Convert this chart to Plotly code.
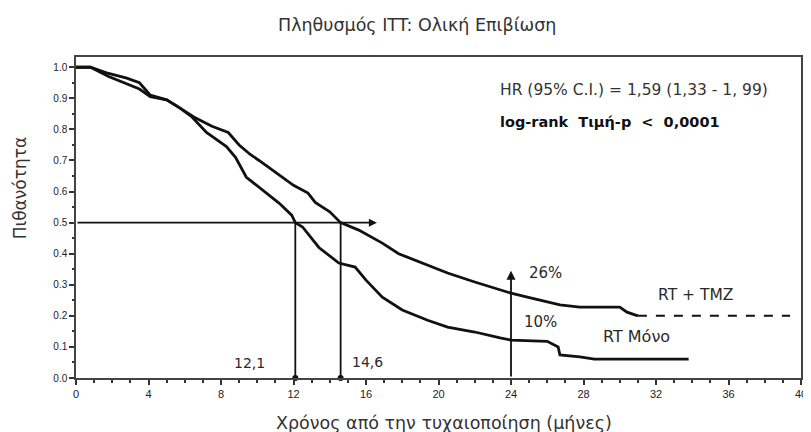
import plotly.graph_objects as go

# ---------------- data ----------------
tmz_t = [0, 0.8, 1.8, 2.8, 3.5, 4.1, 5.0, 5.7, 6.5, 7.5, 8.4, 9.0, 9.6, 10.1, 11.4, 12.0, 12.8,
         13.2, 14.0, 14.6, 15.6, 16.9, 17.8, 19.1, 20.5, 22.0, 23.4, 24.0, 24.9, 25.6, 26.7,
         27.8, 30.0, 30.4, 31.0, 39.4]
tmz_s = [1.0, 1.0, 0.97, 0.945, 0.93, 0.905, 0.895, 0.87, 0.84, 0.81, 0.79, 0.75, 0.72, 0.70,
         0.645, 0.62, 0.595, 0.565, 0.535, 0.50, 0.476, 0.434, 0.40, 0.37, 0.338, 0.309,
         0.283, 0.273, 0.26, 0.25, 0.235, 0.228, 0.228, 0.212, 0.20, 0.20]

rt_t = [0, 0.8, 1.8, 2.8, 3.5, 4.1, 5.0, 5.7, 6.4, 7.2, 8.3, 8.8, 9.4, 10.1, 11.2, 11.9, 12.1,
        12.5, 13.4, 14.5, 15.4, 16.0, 16.9, 18.0, 19.4, 20.5, 22.0, 23.4, 24.0, 26.0, 26.6,
        26.7, 27.8, 28.6, 33.8]
rt_s = [1.0, 1.0, 0.98, 0.965, 0.95, 0.91, 0.895, 0.87, 0.84, 0.79, 0.745, 0.71, 0.646, 0.614,
        0.563, 0.524, 0.50, 0.486, 0.42, 0.37, 0.357, 0.315, 0.26, 0.219, 0.186, 0.164,
        0.148, 0.129, 0.122, 0.118, 0.10, 0.074, 0.068, 0.061, 0.061]

tmz_dash_from = 31.0   # sparse (dashed-looking) tail of the RT + TMZ curve

medians = [12.1, 14.6]
median_labels = ["12,1", "14,6"]
landmark_month = 24
landmark_labels = ["26%", "10%"]
series_names = ["RT + TMZ", "RT Μόνο"]

x_ticks = [0, 4, 8, 12, 16, 20, 24, 28, 32, 36, 40]
y_ticks = [0.0, 0.1, 0.2, 0.3, 0.4, 0.5, 0.6, 0.7, 0.8, 0.9, 1.0]
y_tick_labels = ["0.0", "0.1", "0.2", "0.3", "0.4", "0.5", "0.6", "0.7", "0.8", "0.9", "1.0"]

title = "Πληθυσμός ITT: Ολική Επιβίωση"
x_title = "Χρόνος από την τυχαιοποίηση (μήνες)"
y_title = "Πιθανότητα"
hr_text = "HR (95% C.I.) = 1,59 (1,33 - 1, 99)"
p_text = "<b>log-rank  Τιμή-p  &lt;  0,0001</b>"

# ---------------- figure ----------------
FONT = "DejaVu Sans, Liberation Sans, sans-serif"
TICKFONT = "Liberation Sans, Arial, sans-serif"
INK = "#111111"
TXT = "#2a2a2a"
fig = go.Figure()

head_t = [t for t in tmz_t if t <= tmz_dash_from]
head_s = tmz_s[:len(head_t)]
tail_t = [t for t in tmz_t if t >= tmz_dash_from]
tail_s = tmz_s[len(tmz_t) - len(tail_t):]

fig.add_trace(go.Scatter(x=head_t, y=head_s, mode="lines",
                         line=dict(color=INK, width=2.8), name=series_names[0]))
fig.add_trace(go.Scatter(x=tail_t, y=tail_s, mode="lines",
                         line=dict(color=INK, width=2.0, dash="dash"), name=series_names[0]))
fig.add_trace(go.Scatter(x=rt_t, y=rt_s, mode="lines",
                         line=dict(color=INK, width=2.8), name=series_names[1]))

# median vertical lines with foot markers
for m in medians:
    fig.add_shape(type="line", x0=m, x1=m, y0=0, y1=0.5, xref="x", yref="y",
                  line=dict(color=INK, width=1.8))
fig.add_trace(go.Scatter(x=medians, y=[0, 0], mode="markers",
                         marker=dict(color=INK, size=6), cliponaxis=False))

# horizontal arrow at 0.5
fig.add_annotation(x=16.6, y=0.5, ax=0, ay=0.5, xref="x", yref="y", axref="x", ayref="y",
                   text="", showarrow=True, arrowhead=2, arrowsize=1, arrowwidth=1.6,
                   arrowcolor=INK, standoff=0)
# vertical arrow at 24 months
fig.add_annotation(x=landmark_month, y=0.345, ax=landmark_month, ay=0, xref="x", yref="y",
                   axref="x", ayref="y", text="", showarrow=True, arrowhead=2, arrowsize=1,
                   arrowwidth=1.8, arrowcolor=INK, standoff=0)

# median labels
for lab, (tx, ty) in zip(median_labels, [(9.55, 0.048), (16.1, 0.051)]):
    fig.add_annotation(x=tx, y=ty, xref="x", yref="y", text=lab, showarrow=False,
                       font=dict(family=FONT, size=14, color=TXT))

# landmark percent labels
for lab, (tx, ty) in zip(landmark_labels, [(25.9, 0.338), (25.6, 0.18)]):
    fig.add_annotation(x=tx, y=ty, xref="x", yref="y", text=lab, showarrow=False,
                       font=dict(family=FONT, size=15, color=TXT))

# series labels
fig.add_annotation(x=34.2, y=0.267, xref="x", yref="y", text=series_names[0], showarrow=False,
                   font=dict(family=FONT, size=15.5, color=TXT))
fig.add_annotation(x=30.9, y=0.132, xref="x", yref="y", text=series_names[1], showarrow=False,
                   font=dict(family=FONT, size=16, color=TXT))

# statistics text
fig.add_annotation(x=23.3, y=0.926, xref="x", yref="y", text=hr_text, showarrow=False,
                   xanchor="left", font=dict(family=FONT, size=15.5, color="#333"))
fig.add_annotation(x=23.3, y=0.823, xref="x", yref="y", text=p_text, showarrow=False,
                   xanchor="left", font=dict(family=FONT, size=14.5, color="#111"))

# titles
fig.add_annotation(x=0.471, y=1.10, xref="paper", yref="paper", text=title, showarrow=False,
                   yanchor="middle", font=dict(family=FONT, size=17.5, color="#333"))
fig.add_annotation(x=0.508, y=-0.140, xref="paper", yref="paper", text=x_title,
                   showarrow=False, yanchor="middle", font=dict(family=FONT, size=17.5, color="#333"))
fig.add_annotation(x=-0.0767, y=0.592, xref="paper", yref="paper", text=y_title,
                   showarrow=False, textangle=-90, xanchor="center", yanchor="middle",
                   font=dict(family=FONT, size=17, color="#333"))

fig.update_xaxes(range=[0, 40], tickvals=x_ticks, ticktext=[str(v) for v in x_ticks],
                 showgrid=False, zeroline=False, showline=True, linecolor="#444", linewidth=1.5,
                 mirror=True, ticks="outside", ticklen=5, tickwidth=1.5, tickcolor="#333",
                 minor=dict(dtick=1, ticks="outside", ticklen=3, tickcolor="#333", tickwidth=1.5),
                 tickfont=dict(family=TICKFONT, size=11, color="#222"))
fig.update_yaxes(range=[0, 1.033], tickvals=y_ticks, ticktext=y_tick_labels,
                 showgrid=False, zeroline=False, showline=True, linecolor="#444", linewidth=1.5,
                 mirror=True, ticks="outside", ticklen=5, tickwidth=1.5, tickcolor="#333",
                 minor=dict(dtick=0.05, ticks="outside", ticklen=2, tickcolor="#333", tickwidth=1.5),
                 tickfont=dict(family=TICKFONT, size=10, color="#222"))

fig.update_layout(width=811, height=432, plot_bgcolor="white", paper_bgcolor="white",
                  margin=dict(l=68, r=13, t=49, b=62), showlegend=False)

fig.write_html("out.html")
